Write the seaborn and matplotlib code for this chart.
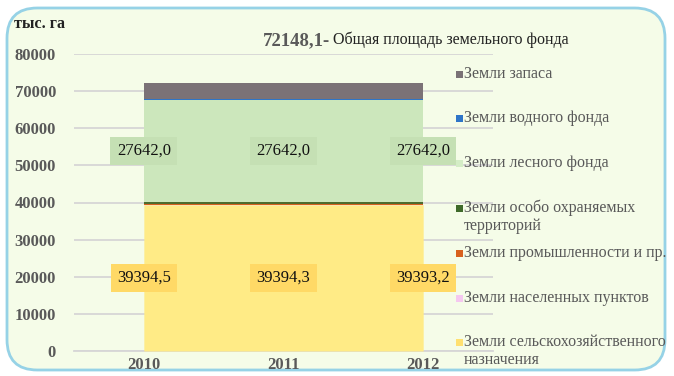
import matplotlib
matplotlib.use("Agg")
import matplotlib.pyplot as plt
from matplotlib.patches import FancyBboxPatch, Rectangle
import numpy as np
import pandas as pd
import seaborn as sns

# Land fund by category, thousand hectares
years = ["2010", "2011", "2012"]
agricultural = [39394.5, 39394.3, 39393.2]
settlements = [60.0, 60.2, 61.3]
industry = [50.0, 50.0, 50.0]
protected = [570.0, 570.0, 570.0]
forest = [27642.0, 27642.0, 27642.0]
water = [230.0, 230.0, 230.0]
total = 72148.1
reserve = [round(total - a - s - i - p - f - w, 1)
           for a, s, i, p, f, w in zip(agricultural, settlements, industry,
                                       protected, forest, water)]

categories = ["Земли сельскохозяйственного\nназначения",
              "Земли населенных пунктов",
              "Земли промышленности и пр.",
              "Земли особо охраняемых\nтерриторий",
              "Земли лесного фонда",
              "Земли водного фонда",
              "Земли запаса"]
colors = ["#FFEB86", "#F5C8F0", "#D8611E", "#4E6B2E", "#CCE7BC", "#2E75C8", "#7B7277"]
legend_colors = ["#FFE070", "#F5C8F0", "#D8611E", "#3F6A2A", "#D4EDC6", "#2E75C8", "#7A7276"]

df = pd.DataFrame({"year": years,
                   categories[0]: agricultural, categories[1]: settlements,
                   categories[2]: industry, categories[3]: protected,
                   categories[4]: forest, categories[5]: water,
                   categories[6]: reserve})

sns.set_theme(style="white")
plt.rcParams["font.family"] = ["Liberation Serif", "DejaVu Serif"]

W, H = 674, 376
bg = "#F5FCE8"
fig = plt.figure(figsize=(W / 100, H / 100), dpi=100)
fig.patch.set_facecolor("white")
frame = FancyBboxPatch((7 / W, 6 / H), 658 / W, 362 / H,
                       boxstyle="round,pad=0,rounding_size=0.045",
                       transform=fig.transFigure, facecolor=bg,
                       edgecolor="#96D2E6", linewidth=2.0, zorder=-10,
                       mutation_aspect=W / H)
fig.patches.append(frame)

ax = fig.add_axes([74 / W, 1 - 351 / H, (493 - 74) / W, (351 - 54) / H])
ax.set_facecolor("none")

x = np.arange(len(years))
ax.stackplot(x, [df[c] for c in categories], colors=colors, zorder=3,
             linewidth=0)

ax.set_xlim(-0.5, 2.5)
ax.set_ylim(0, 80000)
ax.set_yticks(np.arange(0, 80001, 10000))
ax.set_yticklabels([f"{v:d}" for v in range(0, 80001, 10000)])
ax.yaxis.grid(True, color="#D6D6D6", linewidth=1.3, zorder=0)
ax.set_axisbelow(True)
ax.set_xticks(x)
ax.set_xticklabels(years)
ax.set_xticks([-0.5, 0.5, 1.5, 2.5], minor=True)
ax.tick_params(axis="x", which="major", length=0, pad=4)
ax.tick_params(axis="x", which="minor", length=4, width=1, color="#C8C8C8",
               direction="out")
ax.tick_params(axis="y", length=0, pad=13)
for lab in ax.get_xticklabels() + ax.get_yticklabels():
    lab.set_fontweight("bold")
    lab.set_color("#595959")
    lab.set_fontsize(12)
sns.despine(ax=ax, left=True, top=True, right=True)
ax.spines["bottom"].set_color("#D6D6D6")
ax.spines["bottom"].set_linewidth(1.3)

# Value labels in the middle of the two largest bands
base = np.zeros(len(years))
for c, col in zip(categories, colors):
    vals = df[c].to_numpy()
    if c in (categories[0], categories[4]):
        box = "#FFD966" if c == categories[0] else "#C5E0B4"
        for xi, b, v in zip(x, base, vals):
            ax.text(xi, b + v / 2, f"{v:.1f}".replace(".", ","),
                    ha="center", va="center", fontsize=12, color="#111111",
                    zorder=5,
                    bbox=dict(boxstyle="square,pad=0.38", facecolor=box,
                              edgecolor="none"))
    base = base + vals

# Axis unit and total area caption
fig.text(14 / W, 1 - 24 / H, "тыс. га", fontsize=11.5, fontweight="bold",
         color="#222222", va="center", ha="left")
fig.text(263 / W, 1 - 41 / H, f"{total:.1f}".replace(".", ",") + "-",
         fontsize=13.5, fontweight="bold", color="#595959",
         va="center", ha="left")
fig.text(333 / W, 1 - 40 / H, "Общая площадь земельного фонда",
         fontsize=11.5, color="#222222", va="center", ha="left")

# Legend: one entry per category, top to bottom in stacking order reversed
for i, (lab, col) in enumerate(zip(categories[::-1], legend_colors[::-1])):
    yc = 74 + i * 44.8
    fig.patches.append(Rectangle((456 / W, 1 - (yc + 3.5) / H), 7 / W, 7 / H,
                                 transform=fig.transFigure, facecolor=col,
                                 edgecolor="none"))
    fig.text(464 / W, 1 - (yc - 8.5) / H, lab, fontsize=11.5, color="#595959",
             va="top", ha="left", linespacing=1.15)

fig.savefig("out.png", dpi=100, facecolor=fig.get_facecolor())
